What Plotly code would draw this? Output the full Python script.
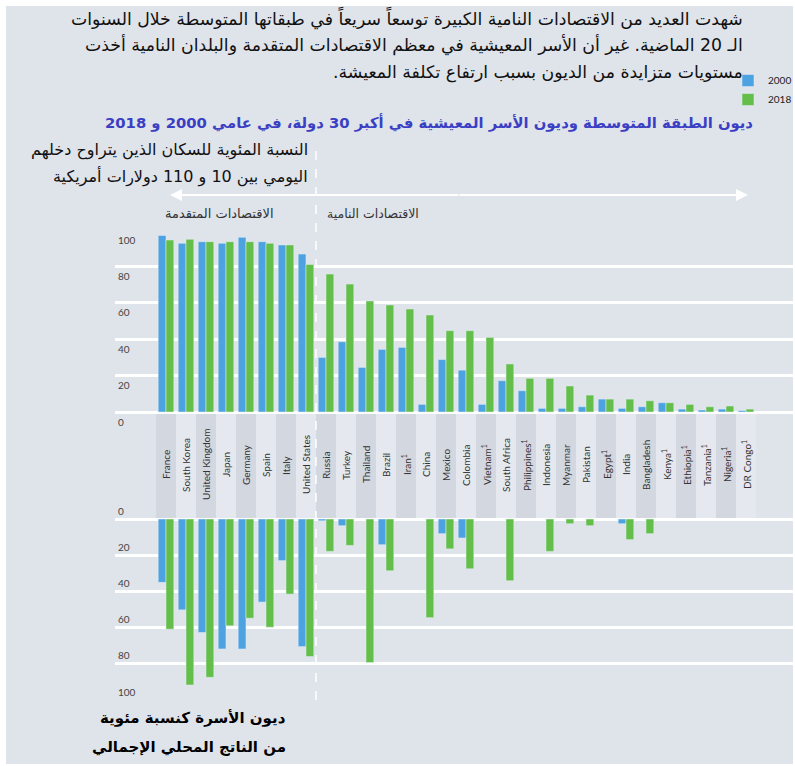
import plotly.graph_objects as go

W, H = 795, 766

countries = ["France", "South Korea", "United Kingdom", "Japan", "Germany", "Spain", "Italy",
             "United States", "Russia", "Turkey", "Thailand", "Brazil", "Iran", "China", "Mexico",
             "Colombia", "Vietnam", "South Africa", "Philippines", "Indonesia", "Myanmar",
             "Pakistan", "Egypt", "India", "Bangladesh", "Kenya", "Ethiopia", "Tanzania",
             "Nigeria", "DR Congo"]
country_labels = ["France", "South Korea", "United Kingdom", "Japan", "Germany", "Spain", "Italy",
                  "United States", "Russia", "Turkey", "Thailand", "Brazil", "Iran<sup>1</sup>",
                  "China", "Mexico", "Colombia", "Vietnam<sup>1</sup>", "South Africa",
                  "Philippines<sup>1</sup>", "Indonesia", "Myanmar", "Pakistan", "Egypt<sup>1</sup>",
                  "India", "Bangladesh", "Kenya<sup>1</sup>", "Ethiopia<sup>1</sup>",
                  "Tanzania<sup>1</sup>", "Nigeria<sup>1</sup>", "DR Congo<sup>1</sup>"]

middle_2000 = [97, 92.7, 93.6, 92.7, 96, 93.6, 91.8, 86.8, 30, 38.6, 24.5, 34.4, 35.5, 4.2, 28.8,
               23, 4.2, 17.2, 11.7, 2, 2, 2.9, 7.1, 2, 2.9, 5.1, 1.6, 1.1, 1.6, 0.8]
middle_2018 = [94.5, 94.9, 93.6, 93.6, 93.6, 92.7, 91.8, 81.1, 75.8, 70.3, 61, 58.8, 56.6, 53.3,
               44.7, 44.7, 41, 26.4, 18.5, 18.5, 14.3, 9.3, 7.1, 7.1, 6.2, 5.1, 4.2, 2.9, 3.3, 1.6]

debt_2000 = [35, 50.2, 62.7, 71.8, 71.8, 45.9, 23, 70.5, 1, 3.7, None, 14.2, None, None, 8.1,
             10.5, None, None, None, None, None, None, None, 2.6, None, None, None, None, None, None]
debt_2018 = [60.9, 91.7, 87.5, 59, 54.8, 59.8, 41.5, 76, 17.9, 14.6, 79.3, 28.6, None, 54.5, 16.5,
             27.5, None, 34.1, None, 17.9, 2.6, 3.7, None, 11.4, 8.1, None, None, None, None, None]

tick_vals = [0, 20, 40, 60, 80, 100]
tick_text = ["0", "20", "40", "60", "80", "100"]
series_names = ["2000", "2018"]

BLUE = "#4da3e2"
GREEN = "#63bf4a"
BG = "#dfe3ea"
AR_FONT = "DejaVu Sans"
RLM = "\u200f"


def px_x(p):
    return p / W


def px_y(p):
    return 1 - p / H


# category centre i sits at pixel 166 + 20*i
x_range = [(115 - 166) / 20, (793 - 166) / 20]
# top panel: value 0 at y=412 px, 100 at y=230 px; domain extended down to 432 px
top_ppu = (412 - 230) / 100
top_range = [-(432 - 412) / top_ppu, 100]
# bottom panel: value 0 at y=519 px, 100 at y=700 px; domain extended up to 500 px
bot_ppu = (700 - 519) / 100
bot_range = [100, -(519 - 500) / bot_ppu]

fig = go.Figure()
fig.add_trace(go.Bar(x=countries, y=middle_2000, name=series_names[0], marker_color=BLUE,
                     xaxis="x", yaxis="y", legendgroup="a"))
fig.add_trace(go.Bar(x=countries, y=middle_2018, name=series_names[1], marker_color=GREEN,
                     xaxis="x", yaxis="y", legendgroup="b"))
fig.add_trace(go.Bar(x=countries, y=debt_2000, name=series_names[0], marker_color=BLUE,
                     xaxis="x2", yaxis="y2", showlegend=False, legendgroup="a"))
fig.add_trace(go.Bar(x=countries, y=debt_2018, name=series_names[1], marker_color=GREEN,
                     xaxis="x2", yaxis="y2", showlegend=False, legendgroup="b"))

axis_common = dict(domain=[px_x(115), px_x(793)], range=x_range, showticklabels=False,
                   showgrid=False, zeroline=False, showline=False, ticks="",
                   categoryorder="array", categoryarray=countries)
tickfont = dict(family="Lato", size=10, color="#444")
fig.update_layout(
    xaxis=dict(**axis_common, anchor="y"),
    xaxis2=dict(**axis_common, anchor="y2", matches="x"),
    yaxis=dict(domain=[px_y(432), px_y(230)], range=top_range, tickvals=tick_vals,
               ticktext=tick_text, showgrid=True, gridcolor="white", gridwidth=2.5,
               zeroline=False, ticklabelposition="inside", ticklabelshift=10,
               tickfont=tickfont, anchor="x"),
    yaxis2=dict(domain=[px_y(700), px_y(500)], range=bot_range, tickvals=tick_vals,
                ticktext=tick_text, showgrid=True, gridcolor="white", gridwidth=2.5,
                zeroline=False, ticklabelposition="inside", ticklabelshift=8,
                tickfont=tickfont, anchor="x2"),
)

shapes = [dict(type="rect", xref="paper", yref="paper", x0=px_x(6), x1=px_x(793),
               y0=px_y(764), y1=px_y(6), fillcolor=BG, line_width=0, layer="below")]
for i in range(len(countries)):
    shapes.append(dict(type="rect", xref="x", yref="paper", x0=i - 0.5, x1=i + 0.5,
                       y0=px_y(519), y1=px_y(412),
                       fillcolor="#d3d7e0" if i % 2 == 0 else "#e5e8ee",
                       line_width=0, layer="below"))
shapes.append(dict(type="line", xref="x", yref="paper", x0=7.5, x1=7.5, y0=px_y(700),
                   y1=px_y(150), line=dict(color="white", width=1.5, dash="dash")))

annotations = []
for i, lab in enumerate(country_labels):
    annotations.append(dict(x=countries[i], xref="x", y=px_y(465), yref="paper", text=lab,
                            textangle=-90, showarrow=False,
                            font=dict(family="Lato", size=10, color="#333")))

title_lines = [
    ("شهدت العديد من الاقتصادات النامية الكبيرة توسعاً سريعاً في طبقاتها المتوسطة خلال السنوات", 18),
    ("الـ 20 الماضية. غير أن الأسر المعيشية في معظم الاقتصادات المتقدمة والبلدان النامية أخذت", 45),
    ("مستويات متزايدة من الديون بسبب ارتفاع تكلفة المعيشة." + RLM, 73),
]
for txt, yy in title_lines:
    annotations.append(dict(x=px_x(745), y=px_y(yy), xref="paper", yref="paper", text=txt,
                            xanchor="right", yanchor="middle", showarrow=False,
                            font=dict(family=AR_FONT, size=17.3, color="#111")))

annotations.append(dict(x=px_x(755), y=px_y(123), xref="paper", yref="paper",
                        text="<b>ديون الطبقة المتوسطة وديون الأسر المعيشية في أكبر 30 دولة، في عامي 2000 و 2018</b>",
                        xanchor="right", yanchor="middle", showarrow=False,
                        font=dict(family=AR_FONT, size=14.8, color="#3b3fc4")))

for txt, yy in [("النسبة المئوية للسكان الذين يتراوح دخلهم", 150),
                ("اليومي بين 10 و 110 دولارات أمريكية", 176)]:
    annotations.append(dict(x=px_x(310), y=px_y(yy), xref="paper", yref="paper", text=txt,
                            xanchor="right", yanchor="middle", showarrow=False,
                            font=dict(family=AR_FONT, size=16, color="#111")))

for txt, yy in [("<b>ديون الأسرة كنسبة مئوية</b>", 718),
                ("<b>من الناتج المحلي الإجمالي</b>", 747)]:
    annotations.append(dict(x=px_x(288), y=px_y(yy), xref="paper", yref="paper", text=txt,
                            xanchor="right", yanchor="middle", showarrow=False,
                            font=dict(family=AR_FONT, size=15, color="#000")))

annotations.append(dict(x=px_x(276), y=px_y(214), xref="paper", yref="paper",
                        text="الاقتصادات المتقدمة", xanchor="right", yanchor="middle",
                        showarrow=False, font=dict(family=AR_FONT, size=13, color="#333")))
annotations.append(dict(x=px_x(325), y=px_y(214), xref="paper", yref="paper",
                        text="الاقتصادات النامية", xanchor="left", yanchor="middle",
                        showarrow=False, font=dict(family=AR_FONT, size=12.5, color="#333")))

# double-headed arrow
annotations.append(dict(x=px_x(170), y=px_y(195), xref="paper", yref="paper", text="",
                        showarrow=True, ax=290, ay=0, arrowhead=2, arrowsize=1.2,
                        arrowwidth=2, arrowcolor="white"))
annotations.append(dict(x=px_x(748), y=px_y(195), xref="paper", yref="paper", text="",
                        showarrow=True, ax=-290, ay=0, arrowhead=2, arrowsize=1.2,
                        arrowwidth=2, arrowcolor="white"))

fig.update_layout(
    width=W, height=H, margin=dict(l=0, r=0, t=0, b=0, autoexpand=False),
    paper_bgcolor="white", plot_bgcolor="rgba(0,0,0,0)",
    barmode="group", bargap=0.22, bargroupgap=0,
    shapes=shapes, annotations=annotations,
    showlegend=True,
    legend=dict(x=px_x(728), y=px_y(66), xanchor="left", yanchor="top",
                bgcolor="rgba(0,0,0,0)", font=dict(family="Lato", size=10, color="#222"),
                itemwidth=30, tracegroupgap=0),
)

fig.write_html("out.html", config={"displayModeBar": False},
               post_script="document.body.style.margin='0';document.body.style.padding='0';")
